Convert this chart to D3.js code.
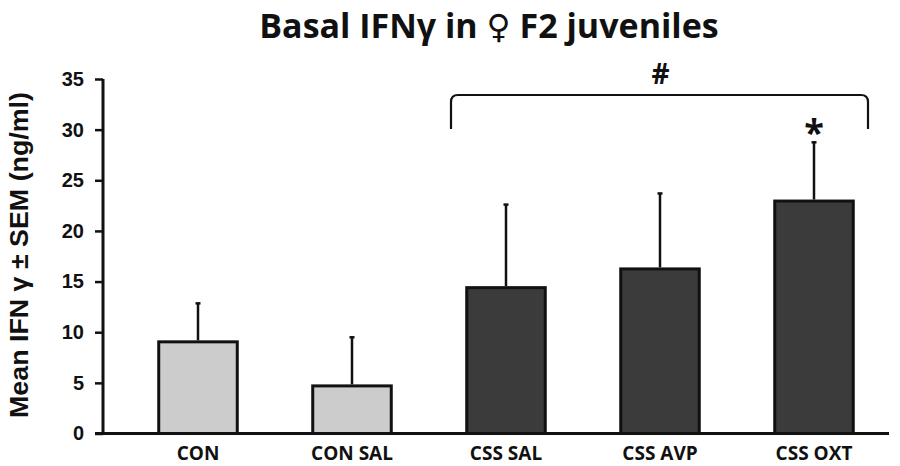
<!DOCTYPE html>
<html>
<head>
<meta charset="utf-8">
<script src="https://cdn.jsdelivr.net/npm/d3@7"></script>
<style>
  body { margin: 0; background: #fff; }
  svg { display: block; }
</style>
</head>
<body>
<div id="chart"></div>
<script>
// data
const groups = ["CON", "CON SAL", "CSS SAL", "CSS AVP", "CSS OXT"];
const means = [9.05, 4.7, 14.4, 16.25, 22.95];
const sems = [3.8, 4.8, 8.2, 7.45, 5.8];
const fills = ["#cccccc", "#cccccc", "#3b3b3b", "#3b3b3b", "#3b3b3b"];
const yTicks = [0, 5, 10, 15, 20, 25, 30, 35];

const width = 900, height = 466;

const svg = d3.select("#chart").append("svg")
  .attr("width", width)
  .attr("height", height);

const x = d3.scaleBand()
  .domain(groups)
  .range([121, 891])
  .paddingInner(0.49)
  .paddingOuter(0.245);

const y = d3.scaleLinear()
  .domain([0, 35])
  .range([433.5, 79]);

// title
const title = svg.append("text")
  .attr("x", 489)
  .attr("y", 38)
  .attr("text-anchor", "middle")
  .attr("font-family", "'Open Sans', sans-serif")
  .attr("font-weight", "bold")
  .attr("font-size", "34px")
  .attr("fill", "#111");
title.append("tspan").text("Basal IFNγ in ");
title.append("tspan")
  .attr("font-family", "'DejaVu Sans', sans-serif")
  .attr("font-size", "33px")
  .text("♀");
title.append("tspan").text(" F2 juveniles");

// y axis label
svg.append("text")
  .attr("transform", "translate(28,255) rotate(-90)")
  .attr("text-anchor", "middle")
  .attr("font-family", "Arial, 'Liberation Sans', sans-serif")
  .attr("font-weight", "bold")
  .attr("font-size", "25px")
  .attr("fill", "#111")
  .attr("textLength", 326)
  .attr("lengthAdjust", "spacingAndGlyphs")
  .text("Mean IFN γ ± SEM (ng/ml)");

// bars
svg.append("g")
  .selectAll("rect")
  .data(groups)
  .join("rect")
  .attr("x", d => x(d))
  .attr("y", (d, i) => y(means[i]))
  .attr("width", x.bandwidth())
  .attr("height", (d, i) => y(0) - y(means[i]))
  .attr("fill", (d, i) => fills[i])
  .attr("stroke", "#111")
  .attr("stroke-width", 3);

// error bars (upper only)
const err = svg.append("g").attr("stroke", "#111");
err.selectAll("line.stem")
  .data(groups)
  .join("line")
  .attr("class", "stem")
  .attr("x1", d => x(d) + x.bandwidth() / 2)
  .attr("x2", d => x(d) + x.bandwidth() / 2)
  .attr("y1", (d, i) => y(means[i]) - 1.5)
  .attr("y2", (d, i) => y(means[i] + sems[i]))
  .attr("stroke-width", 2.5);
err.selectAll("line.cap")
  .data(groups)
  .join("line")
  .attr("class", "cap")
  .attr("x1", d => x(d) + x.bandwidth() / 2 - 2.5)
  .attr("x2", d => x(d) + x.bandwidth() / 2 + 2.5)
  .attr("y1", (d, i) => y(means[i] + sems[i]))
  .attr("y2", (d, i) => y(means[i] + sems[i]))
  .attr("stroke-width", 2.5);

// axes
const yAxis = svg.append("g")
  .attr("transform", "translate(103,0)")
  .call(d3.axisLeft(y).tickValues(yTicks).tickSize(8).tickPadding(11));
yAxis.select(".domain").attr("stroke", "#111").attr("stroke-width", 3)
  .attr("d", `M0,${y(35)}V${y(0) + 1.5}`);
yAxis.selectAll(".tick line").attr("stroke", "#111").attr("stroke-width", 2.5);
yAxis.selectAll(".tick text")
  .attr("font-family", "Arial, 'Liberation Sans', sans-serif")
  .attr("font-weight", "bold")
  .attr("font-size", "20px")
  .attr("fill", "#111");

const xAxis = svg.append("g")
  .attr("transform", `translate(0,${y(0)})`)
  .call(d3.axisBottom(x).tickSize(0).tickPadding(13));
xAxis.select(".domain").attr("stroke", "#111").attr("stroke-width", 3)
  .attr("d", "M95,0H889");
xAxis.selectAll(".tick text")
  .attr("font-family", "'Open Sans', sans-serif")
  .attr("font-weight", "bold")
  .attr("font-size", "19px")
  .attr("fill", "#111");

// significance bracket over the CSS groups
const bx0 = 451, bx1 = 868, bTop = 95, bBot = 129, r = 7;
svg.append("path")
  .attr("d", `M${bx0},${bBot}V${bTop + r}Q${bx0},${bTop} ${bx0 + r},${bTop}H${bx1 - r}Q${bx1},${bTop} ${bx1},${bTop + r}V${bBot}`)
  .attr("fill", "none")
  .attr("stroke", "#111")
  .attr("stroke-width", 2.2);

svg.append("text")
  .attr("x", (bx0 + bx1) / 2 + 1)
  .attr("y", 84)
  .attr("text-anchor", "middle")
  .attr("font-family", "'Open Sans', sans-serif")
  .attr("font-weight", "bold")
  .attr("font-size", "28px")
  .attr("fill", "#111")
  .text("#");

svg.append("text")
  .attr("x", x("CSS OXT") + x.bandwidth() / 2)
  .attr("y", 145)
  .attr("text-anchor", "middle")
  .attr("font-family", "'Open Sans', sans-serif")
  .attr("font-weight", "bold")
  .attr("font-size", "36px")
  .attr("fill", "#111")
  .text("*");
</script>
</body>
</html>
